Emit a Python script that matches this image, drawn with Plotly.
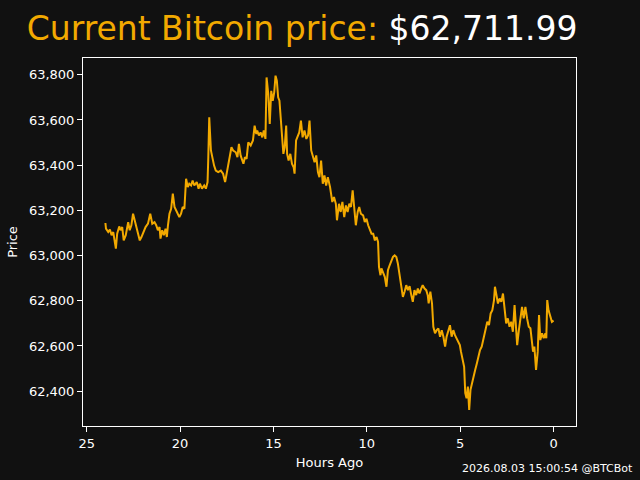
import plotly.graph_objects as go

# hours ago / price
hours_ago = [
    24.00, 23.97, 23.85, 23.76, 23.67, 23.58, 23.44, 23.37, 23.26, 23.19,
    23.10, 23.02, 22.91, 22.78, 22.70, 22.61, 22.52, 22.43, 22.34, 22.25,
    22.16, 22.07, 21.98, 21.85, 21.72, 21.60, 21.49, 21.37, 21.28, 21.19,
    21.10, 21.05, 20.96, 20.87, 20.78, 20.71, 20.65, 20.57, 20.48, 20.39,
    20.30, 20.18, 20.04, 19.95, 19.86, 19.77, 19.68, 19.59, 19.51, 19.41,
    19.33, 19.24, 19.11, 19.01, 18.94, 18.83, 18.71, 18.62, 18.53, 18.49,
    18.44, 18.35, 18.26, 18.18, 18.09, 17.96, 17.82, 17.70, 17.59, 17.46,
    17.34, 17.25, 17.16, 17.02, 16.93, 16.85, 16.76, 16.61, 16.53, 16.44,
    16.35, 16.22, 16.10, 16.01, 15.92, 15.87, 15.78, 15.69, 15.60, 15.52,
    15.43, 15.37, 15.28, 15.20, 15.12, 15.04, 14.96, 14.89, 14.82, 14.75,
    14.68, 14.61, 14.54, 14.47, 14.40, 14.32, 14.27, 14.19, 14.10, 14.01,
    13.92, 13.87, 13.79, 13.71, 13.62, 13.53, 13.44, 13.34, 13.24, 13.15,
    13.07, 12.98, 12.89, 12.80, 12.71, 12.62, 12.54, 12.45, 12.36, 12.27,
    12.18, 12.09, 11.97, 11.85, 11.76, 11.66, 11.60, 11.49, 11.40, 11.31,
    11.21, 11.12, 11.03, 10.94, 10.85, 10.76, 10.68, 10.59, 10.49, 10.41,
    10.32, 10.20, 10.11, 10.02, 9.93, 9.84, 9.75, 9.66, 9.57, 9.48,
    9.40, 9.35, 9.27, 9.22, 9.13, 9.04, 8.95, 8.87, 8.78, 8.69,
    8.60, 8.51, 8.42, 8.34, 8.24, 8.15, 8.07, 7.98, 7.89, 7.80,
    7.71, 7.62, 7.54, 7.45, 7.36, 7.27, 7.18, 7.09, 7.01, 6.91,
    6.82, 6.74, 6.69, 6.60, 6.51, 6.44, 6.35, 6.26, 6.17, 6.08,
    5.99, 5.90, 5.81, 5.73, 5.64, 5.55, 5.46, 5.37, 5.28, 5.20,
    5.11, 5.02, 4.96, 4.88, 4.79, 4.73, 4.66, 4.59, 4.52, 4.45,
    4.38, 4.29, 4.20, 4.11, 4.03, 3.94, 3.85, 3.76, 3.63, 3.55,
    3.46, 3.37, 3.28, 3.19, 3.14, 3.07, 2.98, 2.89, 2.80, 2.71,
    2.62, 2.54, 2.45, 2.36, 2.27, 2.18, 2.09, 2.02, 1.95, 1.86,
    1.77, 1.69, 1.60, 1.51, 1.42, 1.33, 1.24, 1.15, 1.10, 1.03,
    0.94, 0.85, 0.78, 0.71, 0.62, 0.53, 0.44, 0.39, 0.34, 0.27,
    0.18, 0.09, 0.00,
]
price = [
    63144, 63119, 63104, 63115, 63090, 63104, 63031, 63097, 63129, 63112,
    63126, 63067, 63090, 63148, 63112, 63134, 63185, 63156, 63134, 63104,
    63067, 63082, 63104, 63126, 63141, 63185, 63141, 63148, 63134, 63112,
    63126, 63075, 63112, 63090, 63119, 63082, 63134, 63185, 63207, 63274,
    63215, 63193, 63170, 63185, 63215, 63207, 63340, 63303, 63318, 63310,
    63332, 63310, 63325, 63296, 63318, 63296, 63310, 63296, 63325, 63435,
    63612, 63465, 63420, 63398, 63376, 63369, 63376, 63362, 63325, 63384,
    63450, 63479, 63465, 63457, 63435, 63494, 63443, 63406, 63435, 63428,
    63501, 63487, 63509, 63575, 63538, 63553, 63531, 63545, 63523, 63553,
    63516, 63788, 63715, 63582, 63729, 63685, 63722, 63796, 63774, 63700,
    63685, 63597, 63523, 63450, 63479, 63575, 63450, 63420, 63450, 63406,
    63391, 63362, 63509, 63531, 63545, 63597, 63523, 63553, 63516, 63531,
    63597, 63465, 63435, 63413, 63443, 63369, 63347, 63420, 63318, 63354,
    63310, 63347, 63303, 63237, 63259, 63229, 63156, 63229, 63193, 63237,
    63170, 63222, 63193, 63229, 63215, 63288, 63215, 63134, 63193, 63215,
    63185, 63178, 63148, 63163, 63134, 63119, 63097, 63097, 63067, 63082,
    63060, 62950, 62913, 62943, 62928, 62906, 62862, 62935, 62957, 62979,
    62994, 63001, 62994, 62965, 62906, 62847, 62817, 62840, 62869, 62847,
    62865, 62825, 62795, 62847, 62825, 62854, 62832, 62854, 62869, 62854,
    62847, 62825, 62788, 62840, 62788, 62685, 62656, 62670, 62678, 62641,
    62670, 62641, 62597, 62641, 62670, 62692, 62641, 62670, 62648, 62634,
    62619, 62604, 62575, 62545, 62508, 62391, 62369, 62420, 62317, 62406,
    62435, 62464, 62494, 62523, 62553, 62582, 62597, 62626, 62670, 62707,
    62692, 62744, 62758, 62803, 62862, 62825, 62788, 62810, 62795, 62832,
    62751, 62700, 62722, 62685, 62707, 62663, 62781, 62685, 62604, 62670,
    62737, 62773, 62722, 62773, 62722, 62685, 62678, 62626, 62575, 62597,
    62494, 62575, 62737, 62626, 62656, 62634, 62656, 62634, 62803, 62758,
    62729, 62707, 62712,
]

x_ticks = [25, 20, 15, 10, 5, 0]
y_ticks = [62400, 62600, 62800, 63000, 63200, 63400, 63600, 63800]

current_price = "$62,711.99"
stamp = "2026.08.03 15:00:54 @BTCBot"

btc_orange = "#f2a900"
bg = "#111111"
font = "DejaVu Sans"

fig = go.Figure()
fig.add_trace(go.Scatter(
    x=hours_ago,
    y=price,
    mode="lines",
    line=dict(color=btc_orange, width=2),
    showlegend=False,
))

fig.update_layout(
    width=640,
    height=480,
    paper_bgcolor=bg,
    plot_bgcolor=bg,
    font=dict(family=font, color="white", size=13),
    margin=dict(l=80, r=64, t=58, b=53),
    title=dict(
        text=f"<span style='color:{btc_orange}'>Current Bitcoin price:</span> {current_price}",
        font=dict(family=font, size=33, color="white"),
        xref="container", x=0.472, xanchor="center",
        yref="container", y=0.94, yanchor="middle",
    ),
    xaxis=dict(
        range=[25.2, -1.2],
        tickvals=x_ticks,
        ticks="outside", ticklen=5, tickcolor="white",
        showline=True, linecolor="white", linewidth=1, mirror=True,
        showgrid=False, zeroline=False,
        title=dict(text="Hours Ago", standoff=8, font=dict(size=13)),
    ),
    yaxis=dict(
        range=[62246, 63874],
        tickvals=y_ticks,
        tickformat=",",
        ticks="outside", ticklen=5, tickcolor="white",
        showline=True, linecolor="white", linewidth=1, mirror=True,
        showgrid=False, zeroline=False,
        title=dict(text="Price", standoff=8, font=dict(size=13)),
    ),
    annotations=[dict(
        text=stamp,
        xref="paper", yref="paper",
        x=1.119, y=-0.1165,
        xanchor="right", yanchor="middle",
        showarrow=False,
        font=dict(family=font, size=11, color="white"),
    )],
)

# page body has a default 8px margin; drop it so the figure sits at 0,0
fig.write_html(
    "out.html",
    config={"displayModeBar": False},
    post_script="document.body.style.margin='0';",
)
